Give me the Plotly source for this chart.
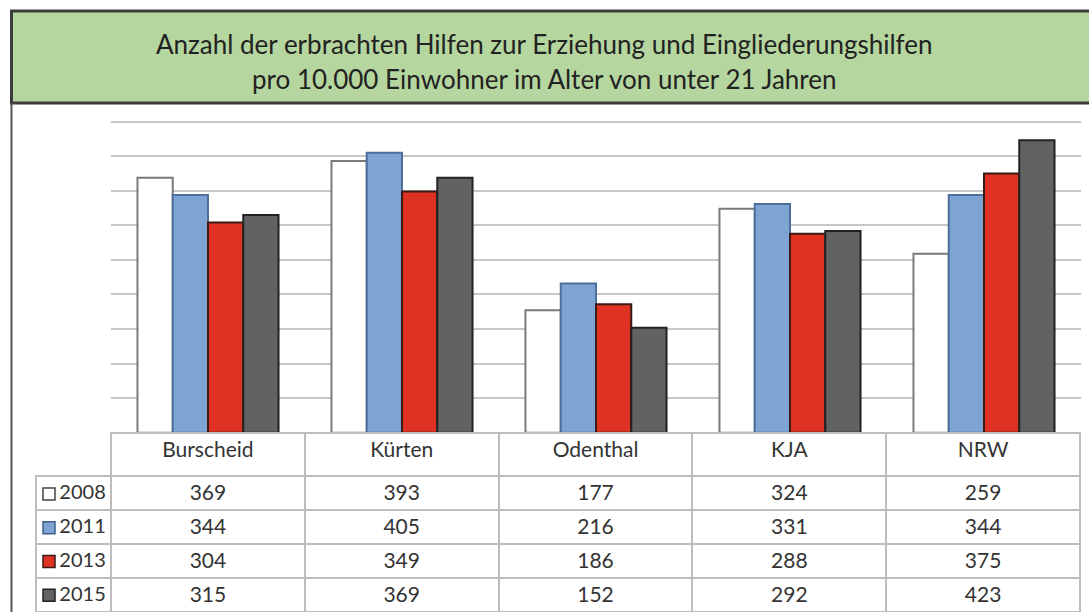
import plotly.graph_objects as go

categories = ["Burscheid", "Kürten", "Odenthal", "KJA", "NRW"]
years = ["2008", "2011", "2013", "2015"]
values_2008 = [369, 393, 177, 324, 259]
values_2011 = [344, 405, 216, 331, 344]
values_2013 = [304, 349, 186, 288, 375]
values_2015 = [315, 369, 152, 292, 423]
series = [values_2008, values_2011, values_2013, values_2015]

fill_colors = ["#FFFFFF", "#7FA4D3", "#E03222", "#626262"]
line_colors = ["#7A7A7A", "#4C6F9C", "#3A1A14", "#222222"]
key_line_colors = ["#444444", "#3E5F8A", "#3A1A14", "#222222"]

title_line1 = "Anzahl der erbrachten Hilfen zur Erziehung und Eingliederungshilfen"
title_line2 = "pro 10.000 Einwohner im Alter von unter 21 Jahren"

W, H = 1089, 612
FONT = "Lato"
TXT = "#333333"
GRID = "#C6C6C6"
TABLE_LINE = "#BDBDBD"

Y_MAX = 460
Y_BASE_PX = 432.7
PX_PER_UNIT = 311.0 / 450.0

def px_x(v):
    return v / W

def px_y(v):
    return (H - v) / H

fig = go.Figure()

for yr, vals, fc, lc in zip(years, series, fill_colors, line_colors):
    fig.add_trace(go.Bar(
        x=categories, y=vals, name=yr,
        marker=dict(color=fc, line=dict(color=lc, width=2)),
        showlegend=False, hoverinfo="skip",
    ))

# row label table (years), with empty top-left cell
year_labels = ["\u00a0" * 3 + y for y in years]
fig.add_trace(go.Table(
    domain=dict(x=[px_x(36), px_x(111)], y=[0, px_y(433)]),
    header=dict(
        values=[""],
        height=43,
        fill_color="rgba(0,0,0,0)",
        line=dict(color="rgba(0,0,0,0)", width=0),
        font=dict(family=FONT, size=20, color=TXT),
    ),
    cells=dict(
        values=[year_labels],
        height=34,
        align="left",
        fill_color="rgba(0,0,0,0)",
        line=dict(color=TABLE_LINE, width=2),
        font=dict(family=FONT, size=20, color=TXT),
    ),
))

# data table
fig.add_trace(go.Table(
    domain=dict(x=[px_x(111), px_x(1081)], y=[0, px_y(433)]),
    columnwidth=[1] * len(categories),
    header=dict(
        values=categories,
        height=43,
        align="center",
        fill_color="white",
        line=dict(color=TABLE_LINE, width=2),
        font=dict(family=FONT, size=21, color=TXT),
    ),
    cells=dict(
        values=[[s[i] for s in series] for i in range(len(categories))],
        height=34,
        align="center",
        fill_color="white",
        line=dict(color=TABLE_LINE, width=2),
        font=dict(family=FONT, size=21, color=TXT),
    ),
))

# colour keys in the row label column
fig.add_trace(go.Scatter(
    x=[13] * len(years), y=years, mode="markers",
    xaxis="x2", yaxis="y2",
    marker=dict(symbol="square", size=12, color=fill_colors,
                line=dict(color=key_line_colors, width=1.5)),
    showlegend=False, hoverinfo="skip", cliponaxis=False,
))

shapes = [
    # title box
    dict(type="rect", xref="paper", yref="paper",
         x0=px_x(11.5), x1=px_x(1095), y0=px_y(103), y1=px_y(11),
         fillcolor="#B6D6A0", line=dict(color="#3C3C3C", width=3), layer="below"),
    # left frame line
    dict(type="line", xref="paper", yref="paper",
         x0=px_x(11.5), x1=px_x(11.5), y0=0, y1=px_y(103),
         line=dict(color="#555555", width=2)),
]

annotations = [
    dict(text=title_line1, x=0.5, y=px_y(44), xref="paper", yref="paper",
         showarrow=False, xanchor="center", yanchor="middle",
         font=dict(family=FONT, size=26, color="#222222")),
    dict(text=title_line2, x=0.5, y=px_y(79), xref="paper", yref="paper",
         showarrow=False, xanchor="center", yanchor="middle",
         font=dict(family=FONT, size=26, color="#222222")),
]

top_px = Y_BASE_PX - Y_MAX * PX_PER_UNIT

fig.update_layout(
    width=W, height=H,
    margin=dict(l=0, r=0, t=0, b=0),
    paper_bgcolor="white", plot_bgcolor="rgba(0,0,0,0)",
    barmode="group", bargap=0.273, bargroupgap=0,
    shapes=shapes, annotations=annotations,
    xaxis=dict(domain=[px_x(111), px_x(1081)], showticklabels=False,
               showgrid=False, zeroline=False, showline=False, ticks=""),
    yaxis=dict(domain=[px_y(Y_BASE_PX), px_y(top_px)], range=[0, Y_MAX],
               tick0=0, dtick=50,
               showticklabels=False, showgrid=True, gridcolor=GRID, gridwidth=2,
               zeroline=False, showline=False, ticks=""),
    xaxis2=dict(domain=[px_x(36), px_x(111)], range=[0, 75], anchor="y2",
                visible=False, fixedrange=True),
    yaxis2=dict(domain=[0, px_y(477)], type="category",
                categoryorder="array", categoryarray=years,
                range=[len(years) - 0.5, -0.5], anchor="x2",
                visible=False, fixedrange=True),
    font=dict(family=FONT, color=TXT),
    hovermode=False,
)

fig.write_html("out.html", config={"displayModeBar": False},
               post_script="document.body.style.margin='0px';")
